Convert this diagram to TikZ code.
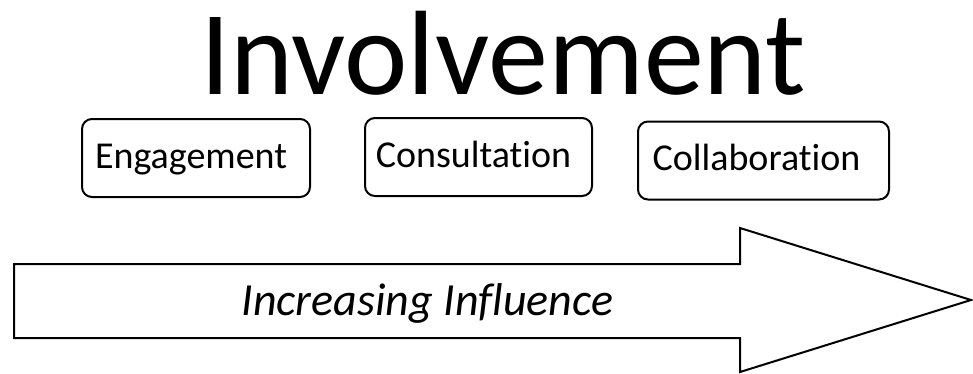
\documentclass[tikz,border=0pt]{standalone}
\usepackage{fontspec}
\setmainfont{Carlito}[Ligatures={NoCommon}]
\begin{document}
\begin{tikzpicture}[x=1pt,y=-1pt,
  stagebox/.style={draw=black, line width=2pt, rounded corners=10pt, fill=white,
    minimum width=#1, minimum height=78pt, inner sep=0pt,
    font=\fontsize{38}{40}\selectfont, text height=28pt, text depth=8pt},
  bigarrow/.style={draw=black, line width=2pt, fill=white, line join=miter},
]
\useasboundingbox (0,0) rectangle (973,373);

% Title
\node[anchor=base, inner sep=0pt, font=\fontsize{120}{130}\selectfont] (title) at (503,94) {Involvement};

% Stages of involvement
\node[stagebox=228pt] (eng) at (196,158) {Engagement\hspace*{10pt}};
\node[stagebox=227pt] (con) at (478.5,157) {Consultation\hspace*{10pt}};
\node[stagebox=251pt] (col) at (763.5,160.5) {Collaboration\hspace*{14pt}};

% Influence arrow
\coordinate (s1) at (14,264);
\coordinate (s2) at (740,264);
\coordinate (h1) at (740,228);
\coordinate (tip) at (971,300);
\coordinate (h2) at (740,372);
\coordinate (s3) at (740,338);
\coordinate (s4) at (14,338);
\draw[bigarrow] (s1) -- (s2) -- (h1) -- (tip) -- (h2) -- (s3) -- (s4) -- cycle;
\node[anchor=base, inner sep=0pt, font=\fontsize{46}{50}\selectfont\itshape] (infl) at (427.5,315) {Increasing Influence};
\end{tikzpicture}
\end{document}
